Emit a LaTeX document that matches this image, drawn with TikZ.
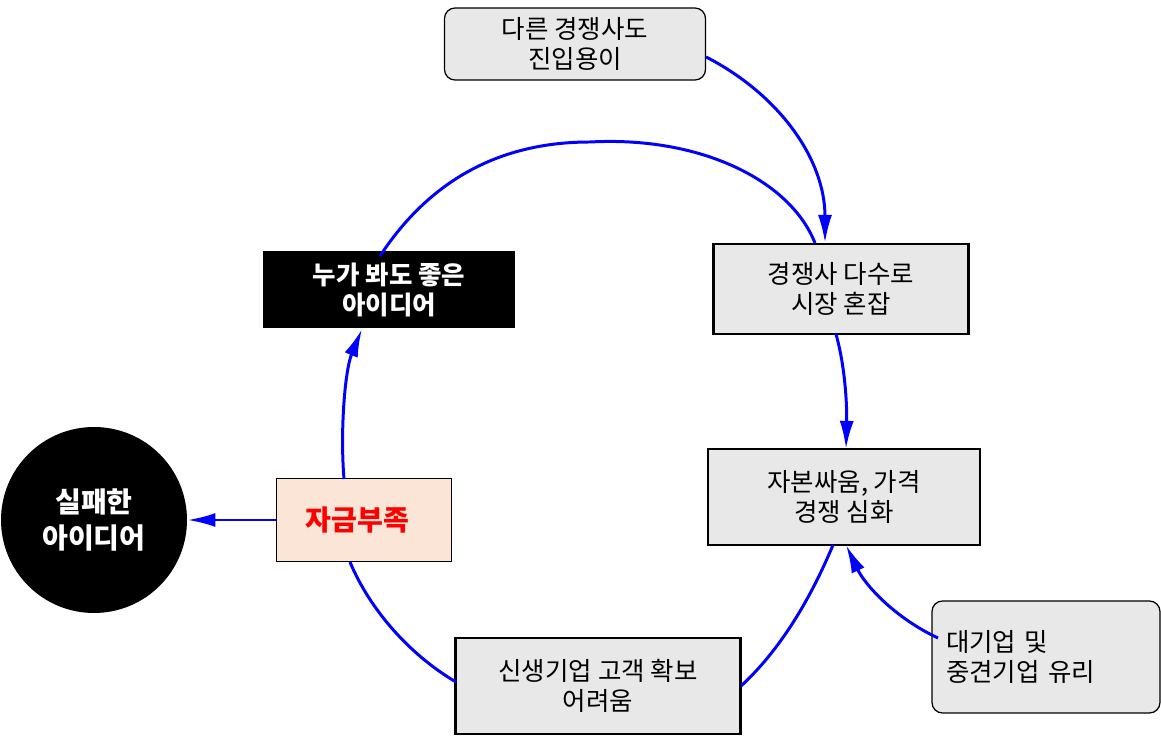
\documentclass[tikz,border=0pt]{standalone}
\usepackage{fontspec}
\setmainfont{Noto Sans CJK KR}
\usetikzlibrary{arrows.meta}
\definecolor{boxgray}{HTML}{E8E8E8}
\definecolor{peach}{HTML}{FBE5D6}
\tikzset{
 every node/.style={font=\fontsize{14.5}{17.5}\selectfont, align=center, inner sep=0pt},
 gbox/.style={draw, line width=1.2pt, fill=boxgray},
 rbox/.style={draw, line width=0.7pt, fill=boxgray, rounded corners=6pt},
 conn/.style={draw=blue, line width=1.7pt},
 arr/.style={conn, -{Latex[length=16pt,width=8pt]}},
}
\begin{document}
\begin{tikzpicture}[x=0.02cm,y=-0.02cm]
\useasboundingbox (0,0) rectangle (1161,739);
\node[rbox, minimum width=261*0.02cm, minimum height=72*0.02cm] (top) at (575,44) {다른 경쟁사도\\진입용이};
\node[gbox, minimum width=255*0.02cm, minimum height=90*0.02cm] (comp) at (841,289) {경쟁사 다수로\\시장 혼잡};
\node[gbox, minimum width=272*0.02cm, minimum height=96*0.02cm] (cap) at (844,497) {자본싸움, 가격\\경쟁 심화};
\node[rbox, minimum width=228*0.02cm, minimum height=112*0.02cm, align=left, text width=200*0.02cm] (big) at (1046,657) {대기업 및\\중견기업 유리};
\node[gbox, minimum width=285*0.02cm, minimum height=96*0.02cm] (new) at (598,686) {신생기업 고객 확보\\어려움};
\node[draw, line width=0.7pt, fill=peach, minimum width=175*0.02cm, minimum height=83*0.02cm, text=red, font=\fontsize{16}{19}\selectfont\bfseries] (fund) at (364,520) {자금부족~~};
\node[fill=black, text=white, minimum width=252*0.02cm, minimum height=77*0.02cm, font=\fontsize{14.5}{17.5}\selectfont\bfseries] (idea) at (389,290) {누가 봐도 좋은\\아이디어};
\node[circle, fill=black, text=white, minimum size=186*0.02cm, font=\fontsize{16}{20}\selectfont\bfseries] (fail) at (94,520) {실패한\\아이디어};
\coordinate (ta) at (380,256);
\coordinate (tm) at (590,142);
\coordinate (tb) at (815,243);
\draw[arr] (top.east |- 0,57) .. controls (780,95) and (825,160) .. (825,243);
\draw[conn] (ta) .. controls (430,180) and (500,142) .. (tm) .. controls (700,136) and (790,180) .. (tb);
\draw[arr] (836,334) .. controls (846,370) and (847,410) .. (846,449);
\draw[conn] (833,545) .. controls (810,600) and (780,650) .. (741,686);
\draw[arr] (938,638) .. controls (895,618) and (865,585) .. (846,545);
\draw[conn] (456,682) .. controls (410,655) and (370,610) .. (350,562);
\draw[arr] (344,479) .. controls (340,430) and (345,370) .. (362,329);
\draw[arr] (fund.west) -- (fail.east);
\end{tikzpicture}
\end{document}
